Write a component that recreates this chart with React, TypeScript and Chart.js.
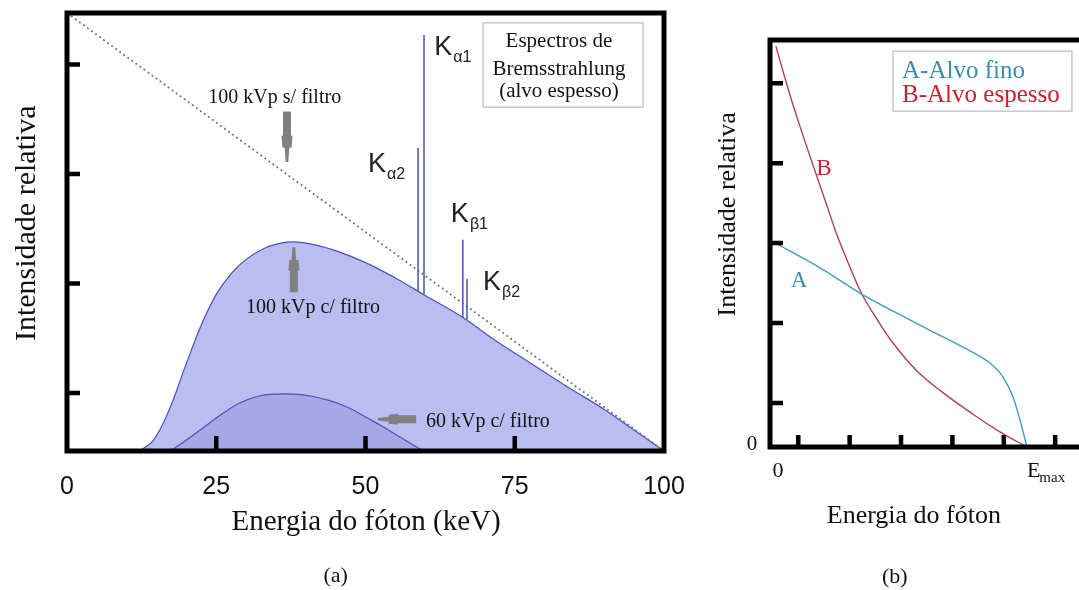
import React, { useEffect, useRef } from 'react';
import { Chart, registerables } from 'chart.js';
Chart.register(...registerables);

const SERIF = '"Liberation Serif", "Times New Roman", serif';
const SANS = '"Liberation Sans", Arial, sans-serif';

// ---------------- Panel (a): Bremsstrahlung spectra ----------------
const aXTickLabelsStep = 25;
const aXTickMarks = [25, 50, 75];
const aYTickMarks = [0.53, 1.53, 2.53, 3.53];

const unfilteredE = [0, 100];
const unfilteredI = [4.0, 0];

const filtered100E = [12.2, 14.5, 17, 20, 22.5, 25, 27.5, 30, 33, 36, 38, 41, 45, 50, 55, 60, 66, 72, 78, 84, 90, 95, 100];
const filtered100I = [0, 0.1, 0.36, 0.8, 1.15, 1.43, 1.62, 1.75, 1.85, 1.9, 1.91, 1.89, 1.83, 1.72, 1.58, 1.42, 1.23, 1.0, 0.79, 0.58, 0.38, 0.19, 0];

const filtered60E = [17.3, 20, 23, 26, 29, 32, 35, 38, 41, 44, 47, 50, 53, 56, 59.7];
const filtered60I = [0, 0.1, 0.22, 0.34, 0.44, 0.5, 0.52, 0.52, 0.5, 0.46, 0.4, 0.31, 0.22, 0.12, 0];

const kLineSubs = ['α1', 'α2', 'β1', 'β2'];
const kLineE = [59.8, 58.8, 66.3, 67.0];
const kLineBase = [1.43, 1.46, 1.22, 1.2];
const kLineTop = [3.8, 2.77, 1.93, 1.57];
const kLabelX = [61.5, 50.4, 64.3, 69.7];
const kLabelY = [3.62, 2.55, 2.09, 1.47];

const aNoteTexts = ['100 kVp s/ filtro', '100 kVp c/ filtro', '60 kVp c/ filtro'];
const aNoteX = [34.8, 41.2, 70.5];
const aNoteY = [3.18, 1.26, 0.22];

const aArrowFrom = [[36.85, 3.1], [38.0, 1.45], [58.5, 0.29]];
const aArrowTo = [[36.85, 2.64], [38.0, 1.86], [52.1, 0.29]];

const aBoxLines = ['Espectros de', 'Bremsstrahlung', '(alvo espesso)'];
const aBoxLineY = [3.69, 3.43, 3.23];

// ---------------- Panel (b): thin vs thick target ----------------
const bXTickMarks = [0.11, 0.31, 0.51, 0.71, 0.91, 1.11];
const bYTickMarks = [0.55, 1.55, 2.55, 3.55, 4.55];

const thinE = [0.01, 0.195, 0.358, 0.494, 0.623, 0.751, 0.856, 0.907, 0.946, 0.973, 1.0];
const thinI = [2.57, 2.24, 1.91, 1.675, 1.46, 1.25, 1.05, 0.875, 0.625, 0.34, 0];

const thickE = [0.023, 0.078, 0.128, 0.17, 0.214, 0.261, 0.311, 0.358, 0.416, 0.479, 0.572, 0.673, 0.79, 0.895, 1.0];
const thickI = [5.01, 4.4, 3.9, 3.5, 3.09, 2.65, 2.25, 1.91, 1.6, 1.3, 0.95, 0.68, 0.41, 0.19, 0];

const bLegendTexts = ['A-Alvo fino', 'B-Alvo espesso'];
const THIN_COLOR = '#3f9fba';
const THICK_COLOR = '#b0404f';
const THIN_TEXT = '#3a8db0';
const THICK_TEXT = '#c8202f';

const pts = (xs: number[], ys: number[]) => xs.map((x, i) => ({ x, y: ys[i] }));

function txt(ctx: CanvasRenderingContext2D, s: string, x: number, y: number, font: string, color: string, align: CanvasTextAlign = 'center') {
  ctx.font = font;
  ctx.fillStyle = color;
  ctx.textAlign = align;
  ctx.textBaseline = 'alphabetic';
  ctx.fillText(s, x, y);
}

function vtxt(ctx: CanvasRenderingContext2D, s: string, x: number, y: number, font: string, color: string) {
  ctx.save();
  ctx.translate(x, y);
  ctx.rotate(-Math.PI / 2);
  txt(ctx, s, 0, 0, font, color, 'center');
  ctx.restore();
}

function arrow(ctx: CanvasRenderingContext2D, x0: number, y0: number, x1: number, y1: number) {
  const dx = x1 - x0, dy = y1 - y0;
  const L = Math.hypot(dx, dy);
  const ux = dx / L, uy = dy / L, nx = -uy, ny = ux;
  const seg = (t0: number, t1: number, h0: number, h1: number) => {
    const p = (t: number, h: number) => [x0 + ux * L * t + nx * h, y0 + uy * L * t + ny * h];
    const a = p(t0, -h0), b = p(t1, -h1), c = p(t1, h1), d = p(t0, h0);
    ctx.beginPath();
    ctx.moveTo(a[0], a[1]); ctx.lineTo(b[0], b[1]); ctx.lineTo(c[0], c[1]); ctx.lineTo(d[0], d[1]);
    ctx.closePath();
    ctx.fill();
  };
  ctx.fillStyle = '#808080';
  seg(0, 0.5, 4, 4);
  seg(0.48, 0.72, 5.5, 4.5);
  seg(0.7, 1, 2.4, 1.3);
}

const panelAPlugin = {
  id: 'panelA',
  afterDatasetsDraw(chart: any) {
    const { ctx, chartArea: ca } = chart;
    const xs = chart.scales.x, ys = chart.scales.y;
    const X = (v: number) => xs.getPixelForValue(v);
    const Y = (v: number) => ys.getPixelForValue(v);
    ctx.save();
    ctx.strokeStyle = '#000';
    ctx.lineWidth = 5;
    ctx.strokeRect(ca.left, ca.top, ca.right - ca.left, ca.bottom - ca.top);
    ctx.lineWidth = 4.5;
    ctx.lineCap = 'butt';
    ctx.beginPath();
    aXTickMarks.forEach((v) => { ctx.moveTo(X(v), ca.bottom); ctx.lineTo(X(v), ca.bottom - 15); });
    aYTickMarks.forEach((v) => { ctx.moveTo(ca.left, Y(v)); ctx.lineTo(ca.left + 13, Y(v)); });
    ctx.stroke();

    kLineSubs.forEach((sub, i) => {
      const x = X(kLabelX[i]), y = Y(kLabelY[i]);
      txt(ctx, 'K', x, y, `27px ${SANS}`, '#222', 'left');
      const w = ctx.measureText('K').width;
      txt(ctx, sub, x + w + 1, y + 7, `16px ${SANS}`, '#222', 'left');
    });

    aNoteTexts.forEach((s, i) => txt(ctx, s, X(aNoteX[i]), Y(aNoteY[i]), `20px ${SERIF}`, '#111'));
    aArrowFrom.forEach((f, i) => arrow(ctx, X(f[0]), Y(f[1]), X(aArrowTo[i][0]), Y(aArrowTo[i][1])));

    const bx0 = X(69.7), bx1 = X(96.5), by0 = Y(3.91), by1 = Y(3.14);
    ctx.fillStyle = '#fff';
    ctx.fillRect(bx0, by0, bx1 - bx0, by1 - by0);
    ctx.strokeStyle = '#c8c8c8';
    ctx.lineWidth = 1.5;
    ctx.strokeRect(bx0, by0, bx1 - bx0, by1 - by0);
    aBoxLines.forEach((s, i) => txt(ctx, s, X(82.4), Y(aBoxLineY[i]), `21px ${SERIF}`, '#111'));

    vtxt(ctx, 'Intensidade relativa', X(-5.35), Y(2.08), `30px ${SERIF}`, '#111');
    txt(ctx, 'Energia do fóton (keV)', X(50.1), Y(-0.72), `29px ${SERIF}`, '#111');
    txt(ctx, '(a)', X(45.0), Y(-1.2), `22px ${SERIF}`, '#111');
    ctx.restore();
  },
};

const panelBPlugin = {
  id: 'panelB',
  afterDatasetsDraw(chart: any) {
    const { ctx, chartArea: ca } = chart;
    const xs = chart.scales.x, ys = chart.scales.y;
    const X = (v: number) => xs.getPixelForValue(v);
    const Y = (v: number) => ys.getPixelForValue(v);
    ctx.save();
    ctx.strokeStyle = '#000';
    ctx.lineWidth = 5;
    ctx.strokeRect(ca.left, ca.top, ca.right - ca.left, ca.bottom - ca.top);
    ctx.lineWidth = 4.5;
    ctx.beginPath();
    bXTickMarks.forEach((v) => { ctx.moveTo(X(v), ca.bottom); ctx.lineTo(X(v), ca.bottom - 12); });
    bYTickMarks.forEach((v) => { ctx.moveTo(ca.left, Y(v)); ctx.lineTo(ca.left + 13, Y(v)); });
    ctx.stroke();

    const lx0 = X(0.479), lx1 = X(1.175), ly0 = Y(4.95), ly1 = Y(4.2);
    ctx.strokeStyle = '#c8c8c8';
    ctx.lineWidth = 1.5;
    ctx.strokeRect(lx0, ly0, lx1 - lx0, ly1 - ly0);
    txt(ctx, bLegendTexts[0], X(0.514), Y(4.61), `25px ${SERIF}`, THIN_TEXT, 'left');
    txt(ctx, bLegendTexts[1], X(0.514), Y(4.31), `25px ${SERIF}`, THICK_TEXT, 'left');

    txt(ctx, 'B', X(0.21), Y(3.4), `23px ${SERIF}`, THICK_TEXT);
    txt(ctx, 'A', X(0.113), Y(2.0), `23px ${SERIF}`, THIN_TEXT);

    txt(ctx, '0', X(-0.05), Y(-0.04), `21px ${SERIF}`, '#111', 'right');
    txt(ctx, '0', X(0.031), Y(-0.375), `22px ${SERIF}`, '#111');
    txt(ctx, 'E', X(1.0), Y(-0.375), `22px ${SERIF}`, '#111', 'left');
    const ew = ctx.measureText('E').width;
    txt(ctx, 'max', X(1.0) + ew - 1, Y(-0.375) + 5, `15px ${SERIF}`, '#111', 'left');

    vtxt(ctx, 'Intensidade relativa', X(-0.136), Y(2.91), `26px ${SERIF}`, '#111');
    txt(ctx, 'Energia do fóton', X(0.56), Y(-0.95), `26px ${SERIF}`, '#111');
    txt(ctx, '(b)', X(0.486), Y(-1.7), `22px ${SERIF}`, '#111');
    ctx.restore();
  },
};

function makeA(canvas: HTMLCanvasElement) {
  const datasets: any[] = [];
  kLineSubs.forEach((s, i) => {
    datasets.push({
      label: 'K' + s,
      data: [{ x: kLineE[i], y: kLineBase[i] }, { x: kLineE[i], y: kLineTop[i] }],
      borderColor: '#4a50b8',
      borderWidth: 1.5,
      pointRadius: 0,
      tension: 0,
      fill: false,
    });
  });
  datasets.push({
    label: '100 kVp s/ filtro',
    data: pts(unfilteredE, unfilteredI),
    borderColor: '#6e6e6e',
    borderWidth: 1.8,
    borderDash: [1.8, 3.2],
    pointRadius: 0,
    tension: 0,
    fill: false,
  });
  datasets.push({
    label: '60 kVp c/ filtro',
    data: pts(filtered60E, filtered60I),
    borderColor: '#4b50c0',
    borderWidth: 1.2,
    backgroundColor: '#a5a8e5',
    pointRadius: 0,
    tension: 0.4,
    fill: 'origin',
  });
  datasets.push({
    label: '100 kVp c/ filtro',
    data: pts(filtered100E, filtered100I),
    borderColor: '#4b50c0',
    borderWidth: 1.2,
    backgroundColor: '#babdf0',
    pointRadius: 0,
    tension: 0.4,
    fill: 'origin',
  });
  return new Chart(canvas, {
    type: 'line',
    data: { datasets },
    options: {
      responsive: false,
      animation: false,
      devicePixelRatio: 1,
      layout: { padding: { top: 13, right: 36, left: 0, bottom: 0 } },
      plugins: { legend: { display: false }, tooltip: { enabled: false }, title: { display: false } },
      scales: {
        x: {
          type: 'linear',
          min: 0,
          max: 100,
          grid: { display: false },
          border: { display: false },
          ticks: { stepSize: aXTickLabelsStep, padding: 13, color: '#111', font: { family: SANS, size: 25 }, maxRotation: 0, autoSkip: false },
          afterFit: (s: any) => { s.height = 139; },
        },
        y: {
          type: 'linear',
          min: 0,
          max: 4,
          grid: { display: false },
          border: { display: false },
          ticks: { display: false },
          afterFit: (s: any) => { s.width = 67; },
        },
      },
    } as any,
    plugins: [panelAPlugin],
  });
}

function makeB(canvas: HTMLCanvasElement) {
  return new Chart(canvas, {
    type: 'line',
    data: {
      datasets: [
        {
          label: 'A-Alvo fino',
          data: pts(thinE, thinI),
          borderColor: THIN_COLOR,
          borderWidth: 1.4,
          pointRadius: 0,
          cubicInterpolationMode: 'monotone',
          fill: false,
        },
        {
          label: 'B-Alvo espesso',
          data: pts(thickE, thickI),
          borderColor: THICK_COLOR,
          borderWidth: 1.4,
          pointRadius: 0,
          tension: 0.4,
          fill: false,
        },
      ] as any,
    },
    options: {
      responsive: false,
      animation: false,
      devicePixelRatio: 1,
      layout: { padding: { top: 40, right: 15, left: 0, bottom: 0 } },
      plugins: { legend: { display: false }, tooltip: { enabled: false }, title: { display: false } },
      scales: {
        x: {
          type: 'linear',
          min: 0,
          max: 1.265,
          grid: { display: false },
          border: { display: false },
          ticks: { display: false },
          afterFit: (s: any) => { s.height = 143; },
        },
        y: {
          type: 'linear',
          min: 0,
          max: 5.09,
          grid: { display: false },
          border: { display: false },
          ticks: { display: false },
          afterFit: (s: any) => { s.width = 80; },
        },
      },
    } as any,
    plugins: [panelBPlugin],
  });
}

export default function App() {
  const refA = useRef<HTMLCanvasElement>(null);
  const refB = useRef<HTMLCanvasElement>(null);
  useEffect(() => {
    const a = makeA(refA.current!);
    const b = makeB(refB.current!);
    return () => {
      a.destroy();
      b.destroy();
    };
  }, []);
  return (
    <div style={{ position: 'fixed', left: 0, top: 0, width: 1079, height: 590, overflow: 'hidden', background: '#fff' }}>
      <canvas ref={refA} width={700} height={590} style={{ position: 'absolute', left: 0, top: 0, width: 700, height: 590 }} />
      <canvas ref={refB} width={420} height={590} style={{ position: 'absolute', left: 690, top: 0, width: 420, height: 590 }} />
    </div>
  );
}
